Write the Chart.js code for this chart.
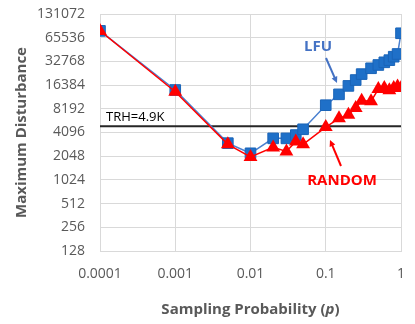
<!DOCTYPE html>
<html>
<head>
<meta charset="utf-8">
<script src="https://cdn.jsdelivr.net/npm/chart.js@4.4.1/dist/chart.umd.min.js"></script>
<style>
  body { margin: 0; background: #fff; }
</style>
</head>
<body>
<canvas id="chart" width="415" height="324"></canvas>
<script>
// sampling probabilities (x) shared by both series
var probs = [0.0001, 0.001, 0.005, 0.01, 0.02, 0.03, 0.04, 0.05, 0.1, 0.15, 0.2, 0.25, 0.3, 0.4, 0.5, 0.6, 0.7, 0.8, 0.9, 1];
var lfu = [80000, 14200, 3000, 2230, 3450, 3450, 3800, 4500, 9100, 12500, 16000, 19000, 22600, 26800, 29500, 31900, 34000, 37600, 40700, 74600];
var random = [80000, 13500, 2900, 2000, 2650, 2350, 3150, 2900, 4800, 6200, 6900, 8400, 10400, 10200, 14600, 15000, 14100, 15000, 15700, 15000];
var trh = 4900;
var trhLabel = 'TRH=4.9K';

var yTicks = [128, 256, 512, 1024, 2048, 4096, 8192, 16384, 32768, 65536, 131072];
var xTicks = [0.0001, 0.001, 0.01, 0.1, 1];
var xTickLabels = ['0.0001', '0.001', '0.01', '0.1', '1'];

function toPoints(xs, ys) {
  var pts = [];
  for (var i = 0; i < xs.length; i++) {
    pts.push({x: xs[i], y: ys[i]});
  }
  return pts;
}

var font = '"Open Sans", "Noto Sans", sans-serif';

// labels, arrows and axis titles
var notes = {
  id: 'notes',
  afterDraw: function(chart) {
    var ctx = chart.ctx;
    var a = chart.chartArea;
    var ys = chart.scales.y;
    ctx.save();

    ctx.fillStyle = '#000';
    ctx.font = '13px ' + font;
    ctx.textAlign = 'left';
    ctx.textBaseline = 'middle';
    ctx.fillText(trhLabel, a.left + 6, ys.getPixelForValue(trh) - 9);

    // LFU
    ctx.fillStyle = '#4472C4';
    ctx.strokeStyle = '#4472C4';
    ctx.font = 'bold 15px ' + font;
    ctx.textAlign = 'center';
    ctx.fillText('LFU', 318, 47);
    arrow(ctx, 326, 58, 337, 83);

    // RANDOM
    ctx.fillStyle = '#FF0000';
    ctx.strokeStyle = '#FF0000';
    ctx.fillText('RANDOM', 342, 181);
    arrow(ctx, 341, 166, 330, 140);

    // axis titles
    ctx.fillStyle = '#595959';
    ctx.font = 'bold 15px ' + font;
    ctx.save();
    ctx.translate(22, (a.top + a.bottom) / 2);
    ctx.rotate(-Math.PI / 2);
    ctx.fillText('Maximum Disturbance', 0, 0);
    ctx.restore();

    var parts = [['Sampling Probability (', 'bold '], ['p', 'italic bold '], [')', 'bold ']];
    var total = 0;
    parts.forEach(function(p) {
      ctx.font = p[1] + '15px ' + font;
      total += ctx.measureText(p[0]).width;
    });
    var x = (a.left + a.right) / 2 - total / 2;
    ctx.textAlign = 'left';
    parts.forEach(function(p) {
      ctx.font = p[1] + '15px ' + font;
      ctx.fillText(p[0], x, 310);
      x += ctx.measureText(p[0]).width;
    });
    ctx.restore();
  }
};

function arrow(ctx, x1, y1, x2, y2) {
  var ang = Math.atan2(y2 - y1, x2 - x1);
  var hl = 7;
  ctx.lineWidth = 2;
  ctx.beginPath();
  ctx.moveTo(x1, y1);
  ctx.lineTo(x2 - Math.cos(ang) * 4, y2 - Math.sin(ang) * 4);
  ctx.stroke();
  ctx.beginPath();
  ctx.moveTo(x2, y2);
  ctx.lineTo(x2 - hl * Math.cos(ang - 0.45), y2 - hl * Math.sin(ang - 0.45));
  ctx.lineTo(x2 - hl * Math.cos(ang + 0.45), y2 - hl * Math.sin(ang + 0.45));
  ctx.closePath();
  ctx.fill();
}

var chart = new Chart(document.getElementById('chart'), {
  type: 'line',
  data: {
    datasets: [
      {
        label: 'RANDOM',
        data: toPoints(probs, random),
        borderColor: '#FF0000',
        backgroundColor: '#FF0000',
        borderWidth: 1.5,
        pointStyle: 'triangle',
        pointRadius: 8,
        pointBorderWidth: 0,
        order: 0
      },
      {
        label: 'LFU',
        data: toPoints(probs, lfu),
        borderColor: '#4A80D0',
        backgroundColor: '#1F70C8',
        pointBorderColor: '#1A64B8',
        borderWidth: 1.5,
        pointStyle: 'rect',
        pointRadius: 7.5,
        pointBorderWidth: 1,
        order: 1
      },
      {
        label: 'TRH',
        data: toPoints([xTicks[0], xTicks[xTicks.length - 1]], [trh, trh]),
        borderColor: '#262626',
        borderWidth: 2,
        pointRadius: 0,
        order: 2
      }
    ]
  },
  options: {
    responsive: false,
    animation: false,
    layout: { padding: { top: 14, right: 14, left: 0, bottom: 0 } },
    plugins: {
      legend: { display: false },
      tooltip: { enabled: false }
    },
    scales: {
      x: {
        type: 'logarithmic',
        min: 0.0001,
        max: 1,
        afterBuildTicks: function(scale) {
          scale.ticks = xTicks.map(function(v) { return {value: v}; });
        },
        afterFit: function(scale) {
          scale.height = 73;
          scale.paddingLeft = 0;
          scale.paddingRight = 0;
        },
        ticks: {
          autoSkip: false,
          maxRotation: 0,
          padding: 15,
          color: '#595959',
          font: { family: font, size: 14 },
          callback: function(v) {
            var i = xTicks.indexOf(v);
            return i >= 0 ? xTickLabels[i] : '';
          }
        },
        grid: { color: '#d9d9d9', drawTicks: false },
        border: { color: '#d9d9d9' }
      },
      y: {
        type: 'logarithmic',
        min: 128,
        max: 131072,
        afterBuildTicks: function(scale) {
          scale.ticks = yTicks.map(function(v) { return {value: v}; });
        },
        afterFit: function(scale) {
          scale.width = 100;
          scale.paddingTop = 0;
          scale.paddingBottom = 0;
        },
        ticks: {
          autoSkip: false,
          padding: 15,
          color: '#595959',
          font: { family: font, size: 14 },
          callback: function(v) { return String(v); }
        },
        grid: { color: '#d9d9d9', drawTicks: false },
        border: { color: '#d9d9d9' }
      }
    }
  },
  plugins: [notes]
});
</script>
</body>
</html>
